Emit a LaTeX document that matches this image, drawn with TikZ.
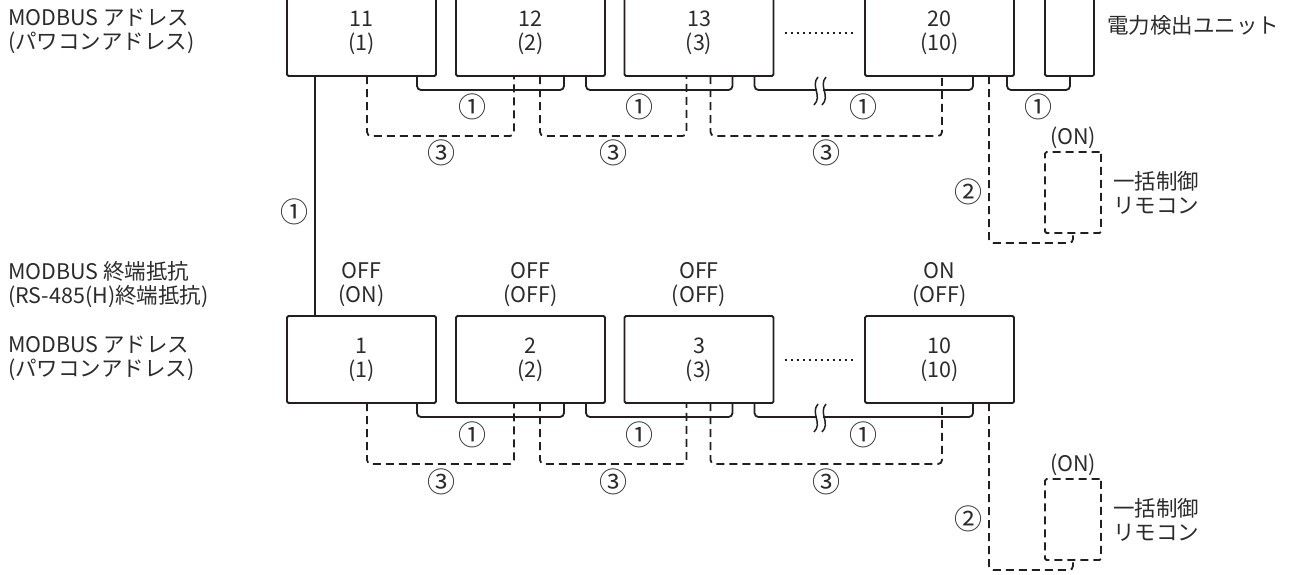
\documentclass[tikz,border=0pt]{standalone}
\usepackage{fontspec}
\setmainfont{Noto Sans CJK JP}
\definecolor{ink}{HTML}{231F20}
\definecolor{txt}{HTML}{2B2B2B}
\begin{document}
\begin{tikzpicture}[x=1pt,y=-1pt,color=ink,
  font=\fontsize{21.5}{24}\selectfont,
  every node/.style={text=txt},
  unit/.style={draw=ink, line width=1.8pt, rounded corners=1.5pt, minimum width=149pt, minimum height=87pt, inner sep=0pt, outer sep=0pt, align=center},
  wire/.style={line width=1.8pt, rounded corners=4pt},
  dwire/.style={line width=1.8pt, dash pattern=on 8pt off 5pt, rounded corners=4pt},
  remote/.style={draw=ink, line width=1.8pt, dash pattern=on 8pt off 5pt, rounded corners=1.5pt, minimum width=56pt, minimum height=81pt, inner sep=0pt, outer sep=0pt},
  lbl/.style={align=left, anchor=west, inner sep=0pt},
  num/.style={inner sep=0pt, font=\fontsize{28}{30}\selectfont},
  captext/.style={align=center, inner sep=0pt},
  dotline/.style={line width=2pt, dash pattern=on 2pt off 4pt},
  brk/.style={line width=1.5pt}]
\useasboundingbox (0,0) rectangle (1289,574);
\clip (0,0) rectangle (1289,574);

% ---------- left labels ----------
\node[lbl] (la1) at (8,31.5) {MODBUS アドレス\\(パワコンアドレス)};
\node[lbl] (la2) at (8,284.5) {MODBUS 終端抵抗\\(RS-485(H)終端抵抗)};
\node[lbl] (la3) at (8,358) {MODBUS アドレス\\(パワコンアドレス)};

% ---------- top row ----------
\node[unit] (t1) at (361.5,32.5) {11\\(1)};
\node[unit] (t2) at (530.5,32.5) {12\\(2)};
\node[unit] (t3) at (699,32.5) {13\\(3)};
\node[unit] (t4) at (939.5,32.5) {20\\(10)};
\node[unit, minimum width=49pt] (u) at (1069.5,32.5) {};
\node[lbl] (ul) at (1107,25) {電力検出ユニット};
\draw[dotline] ([xshift=11pt]t3.east) -- ([xshift=-10pt]t4.west);

\draw[wire] ([xshift=-19pt]t1.south east) -- ++(0,14) -| ([xshift=-41pt]t2.south east);
\draw[wire] ([xshift=-19pt]t2.south east) -- ++(0,14) -| ([xshift=-41pt]t3.south east);
\draw[wire] ([xshift=-19pt]t3.south east) -- ++(0,14) -| ([xshift=-41pt]t4.south east);
\draw[wire] ([xshift=-7pt]t4.south east) -- ++(0,14) -| ([xshift=-24pt]u.south east);
\fill[white] (816,86) rectangle (823,94);
\draw[brk] (818,77) .. controls (810,86) and (823,96) .. (814,105);
\draw[brk] (826,77) .. controls (818,86) and (831,96) .. (822,105);

\draw[dwire] ([xshift=80pt]t1.south west) -- ++(0,60) -| ([xshift=58pt]t2.south west);
\draw[dwire] ([xshift=84pt]t2.south west) -- ++(0,60) -| ([xshift=62pt]t3.south west);
\draw[dwire] ([xshift=86pt]t3.south west) -- ++(0,60) -| ([xshift=77pt]t4.south west);

\node[remote] (r1) at (1073,192.5) {};
\node[captext] (r1on) at (1073,138) {(ON)};
\node[lbl] (r1l) at ([xshift=12pt]r1.east) {一括制御\\リモコン};
\draw[dwire] ([xshift=-25pt]t4.south east) |- ([yshift=-10pt]r1.south) -- (r1.south);

\node[num] (c1a) at (472,107) {①};
\node[num] (c1b) at (639,107) {①};
\node[num] (c1c) at (863,107) {①};
\node[num] (c1d) at (1038,107) {①};
\node[num] (c3a) at (441,153) {③};
\node[num] (c3b) at (613,153) {③};
\node[num] (c3c) at (826,153) {③};
\node[num] (c2t) at (968,192) {②};

% ---------- vertical link ----------
\node[num] (c1v) at (294,212) {①};

% ---------- bottom row ----------
\node[unit] (b1) at (361.5,359.5) {1\\(1)};
\node[unit] (b2) at (530.5,359.5) {2\\(2)};
\node[unit] (b3) at (699,359.5) {3\\(3)};
\node[unit] (b4) at (939.5,359.5) {10\\(10)};
\draw[dotline] ([xshift=11pt]b3.east) -- ([xshift=-10pt]b4.west);
\draw[wire] ([xshift=28pt]t1.south west) -- ([xshift=28pt]b1.north west);

\node[captext] (s1) at (361.5,284.5) {OFF\\(ON)};
\node[captext] (s2) at (530.5,284.5) {OFF\\(OFF)};
\node[captext] (s3) at (699,284.5) {OFF\\(OFF)};
\node[captext] (s4) at (939.5,284.5) {ON\\(OFF)};

\draw[wire] ([xshift=-19pt]b1.south east) -- ++(0,14) -| ([xshift=-41pt]b2.south east);
\draw[wire] ([xshift=-19pt]b2.south east) -- ++(0,14) -| ([xshift=-41pt]b3.south east);
\draw[wire] ([xshift=-19pt]b3.south east) -- ++(0,14) -| ([xshift=-41pt]b4.south east);
\fill[white] (816,413) rectangle (823,421);
\draw[brk] (818,404) .. controls (810,413) and (823,423) .. (814,432);
\draw[brk] (826,404) .. controls (818,413) and (831,423) .. (822,432);

\draw[dwire] ([xshift=80pt]b1.south west) -- ++(0,61) -| ([xshift=58pt]b2.south west);
\draw[dwire] ([xshift=84pt]b2.south west) -- ++(0,61) -| ([xshift=62pt]b3.south west);
\draw[dwire] ([xshift=86pt]b3.south west) -- ++(0,61) -| ([xshift=77pt]b4.south west);

\node[remote] (r2) at (1073,519.5) {};
\node[captext] (r2on) at (1073,465) {(ON)};
\node[lbl] (r2l) at ([xshift=12pt]r2.east) {一括制御\\リモコン};
\draw[dwire] ([xshift=-25pt]b4.south east) |- ([yshift=-10pt]r2.south) -- (r2.south);

\node[num] (d1a) at (472,435) {①};
\node[num] (d1b) at (639,435) {①};
\node[num] (d1c) at (863,435) {①};
\node[num] (d3a) at (441,482) {③};
\node[num] (d3b) at (613,482) {③};
\node[num] (d3c) at (826,482) {③};
\node[num] (c2b) at (968,519) {②};
\end{tikzpicture}
\end{document}
